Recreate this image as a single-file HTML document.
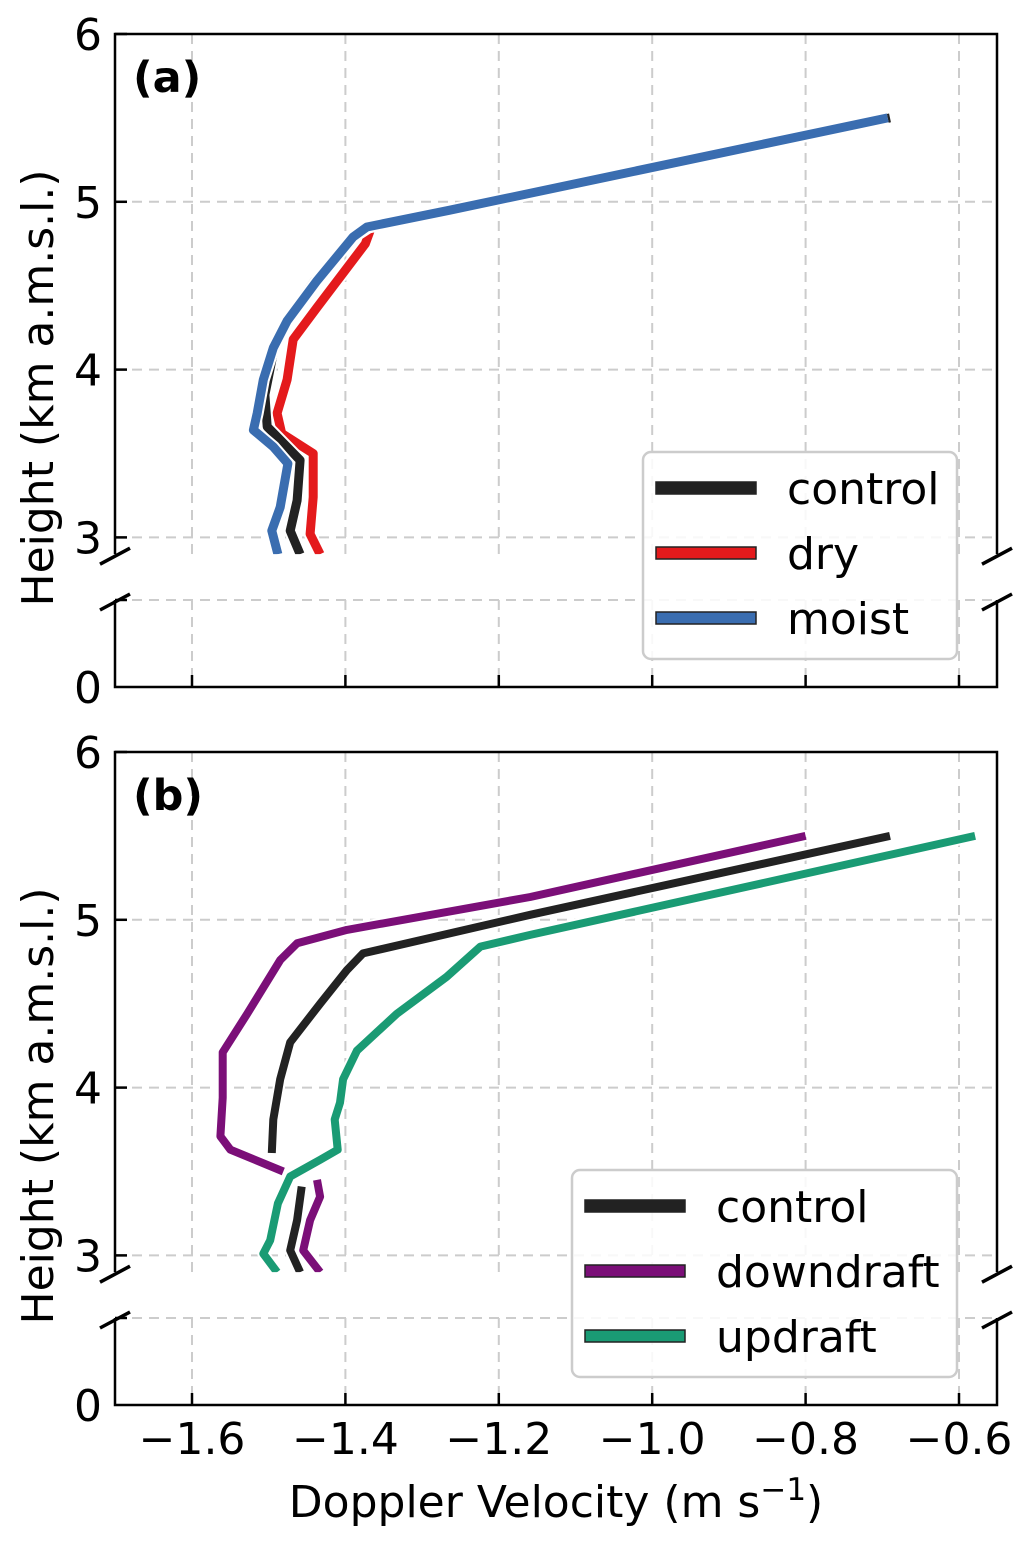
<!DOCTYPE html>
<html><head><meta charset="utf-8"><style>
body{margin:0;background:#fff;}
svg text{font-family:"DejaVu Sans","Liberation Sans",sans-serif;fill:#000;}
</style></head><body>
<svg id="chart" width="1033" height="1543" viewBox="0 0 1033 1543" xmlns="http://www.w3.org/2000/svg"></svg>
<script>
// x values (Doppler velocity, m/s) and heights (km) per series
const xTicks = [-1.6, -1.4, -1.2, -1.0, -0.8, -0.6];
const xTickLabels = ["\u22121.6", "\u22121.4", "\u22121.2", "\u22121.0", "\u22120.8", "\u22120.6"];
const yTicksUpper = [3, 4, 5, 6];
const yTicksLower = [0];

const aMoistX = [-0.693,-1.264,-1.372,-1.390,-1.437,-1.476,-1.494,-1.507,-1.515,-1.520,-1.494,-1.475,-1.485,-1.496,-1.488];
const aMoistH = [5.50,4.95,4.85,4.79,4.53,4.29,4.13,3.94,3.74,3.64,3.54,3.44,3.18,3.04,2.90];
const aDryX = [-0.70,-1.26,-1.366,-1.374,-1.437,-1.468,-1.476,-1.489,-1.483,-1.442,-1.442,-1.442,-1.446,-1.433];
const aDryH = [5.50,4.95,4.85,4.75,4.37,4.18,3.94,3.74,3.62,3.50,3.40,3.24,3.02,2.90];
const aCtrlX = [-0.69,-1.26,-1.37,-1.39,-1.44,-1.478,-1.494,-1.505,-1.502,-1.459,-1.463,-1.472,-1.459];
const aCtrlH = [5.50,4.95,4.85,4.79,4.53,4.29,4.10,3.85,3.66,3.46,3.22,3.04,2.90];

const bCtrlX = [-0.69,-1.159,-1.377,-1.398,-1.433,-1.472,-1.485,-1.494,-1.496,null,-1.457,-1.463,-1.472,-1.459];
const bCtrlH = [5.50,5.03,4.80,4.70,4.50,4.27,4.05,3.81,3.61,null,3.41,3.21,3.03,2.90];
const bDownX = [-0.80,-1.159,-1.398,-1.463,-1.485,-1.528,-1.560,-1.560,-1.563,-1.550,-1.481,null,-1.437,-1.433,-1.446,-1.455,-1.433];
const bDownH = [5.50,5.136,4.94,4.86,4.76,4.44,4.21,3.94,3.71,3.63,3.50,null,3.45,3.35,3.21,3.03,2.90];
const bUpX = [-0.579,-1.159,-1.224,-1.268,-1.333,-1.385,-1.403,-1.407,-1.414,-1.410,-1.433,-1.472,-1.488,-1.498,-1.507,-1.489];
const bUpH = [5.50,4.91,4.84,4.66,4.44,4.22,4.05,3.91,3.81,3.63,3.57,3.47,3.31,3.09,3.01,2.90];

const svg = document.getElementById('chart');
const NS = 'http://www.w3.org/2000/svg';
function mk(tag, attrs, parent){const e=document.createElementNS(NS,tag);for(const k in attrs)e.setAttribute(k,attrs[k]);(parent||svg).appendChild(e);return e;}
const X0=115, X1=997;
function xs(v){return 192 + (v + 1.6) * 767;}

function panel(p){
  const g = mk('g',{});
  
  
  const ys = h => p.y6 + (6 - h) * 167.8;
  const upBot = ys(2.9), lowTop = p.y0 - 87;
  const gs = {stroke:'#ccc','stroke-width':2,'stroke-dasharray':'10,7'};
  xTicks.forEach(v=>{
    mk('line',Object.assign({x1:xs(v),x2:xs(v),y1:p.y6,y2:upBot},gs),g);
    mk('line',Object.assign({x1:xs(v),x2:xs(v),y1:lowTop,y2:p.y0},gs),g);
  });
  yTicksUpper.forEach(h=>mk('line',Object.assign({x1:X0,x2:X1,y1:ys(h),y2:ys(h)},gs),g));
  mk('line',Object.assign({x1:X0,x2:X1,y1:lowTop,y2:lowTop},gs),g);
  const clip = mk('clipPath',{id:'clip'+p.key},g);
  mk('rect',{x:X0,y:p.y6,width:X1-X0,height:upBot-p.y6},clip);
  const sg = mk('g',{'clip-path':'url(#clip'+p.key+')'},g);
  p.series.forEach(s=>{
    let d='', pen=false;
    s.x.forEach((v,i)=>{ if(v===null){pen=false;return;} d+=(pen?'L':'M')+xs(v).toFixed(1)+','+ys(s.h[i]).toFixed(1); pen=true; });
    const w = mk('path',{d:d,fill:'none',stroke:'#fff','stroke-width':p.lw+4,'stroke-linejoin':'round'},sg);
    
    
    const l = mk('path',{d:d,fill:'none',stroke:s.color,'stroke-width':p.lw,'stroke-linejoin':'round'},sg);
    
    
  });
  const sp={stroke:'#000','stroke-width':2.5,fill:'none'};
  mk('path',Object.assign({d:`M${X0},${upBot}L${X0},${p.y6}L${X1},${p.y6}L${X1},${upBot}`},sp),g);
  mk('path',Object.assign({d:`M${X0},${lowTop}L${X0},${p.y0}L${X1},${p.y0}L${X1},${lowTop}`},sp),g);
  [X0,X1].forEach(x=>{
    mk('line',{x1:x-15,y1:upBot+10,x2:x+15,y2:upBot-6,stroke:'#000','stroke-width':3.5},g);
    mk('line',{x1:x-15,y1:lowTop+10,x2:x+15,y2:lowTop-6,stroke:'#000','stroke-width':3.5},g);
  });
  yTicksUpper.forEach(h=>{
    mk('line',{x1:X0,x2:X0+12,y1:ys(h),y2:ys(h),stroke:'#000','stroke-width':2.5},g);
    const t=mk('text',{x:102,y:ys(h)+16,'font-size':44,'text-anchor':'end'},g);t.textContent=h;
  });
  mk('line',{x1:X0,x2:X0+12,y1:lowTop,y2:lowTop,stroke:'#000','stroke-width':2.5},g);
  yTicksLower.forEach(h=>{
    const t=mk('text',{x:102,y:p.y0+16,'font-size':44,'text-anchor':'end'},g);t.textContent=h;
  });
  xTicks.forEach(v=>mk('line',{x1:xs(v),x2:xs(v),y1:p.y0,y2:p.y0-12,stroke:'#000','stroke-width':2.5},g));
  const yl=mk('text',{x:0,y:0,'font-size':44,'text-anchor':'middle',transform:`translate(53,${p.y6+354}) rotate(-90)`},g);
  yl.textContent='Height (km a.m.s.l.)';
  
  
  const pl=mk('text',{x:133,y:p.y6+58,'font-size':43,'font-weight':'bold'},g);pl.textContent=p.label;
  
  
  const lg=mk('g',{},g);
  
  
  mk('rect',{x:p.lx,y:p.y6+418,width:957-p.lx,height:207,rx:8,fill:'#fff','fill-opacity':0.85,stroke:'#ccc','stroke-width':2.5},lg);
  p.series.slice().sort((a,b)=>a.order-b.order).forEach((s,i)=>{
    const yy=p.y6+454+i*65;
    const r=mk('rect',{x:p.lx+13,y:yy-6,width:100,height:12,fill:s.color,stroke:'#222','stroke-width':1.5},lg);
    
    
    const t=mk('text',{x:p.lx+144,y:yy+16,'font-size':44},lg);t.textContent=s.name;
    
    
  });
}
panel({key:'a',name:'panel-a',label:'(a)',y6:34,y0:687,lw:9,lx:643,series:[
  {name:'dry',color:'#e41a1c',x:aDryX,h:aDryH,order:1},
  {name:'control',color:'#222222',x:aCtrlX,h:aCtrlH,order:0},
  {name:'moist',color:'#3a6db0',x:aMoistX,h:aMoistH,order:2}]});
panel({key:'b',name:'panel-b',label:'(b)',y6:752,y0:1405,lw:8,lx:572,series:[
  {name:'control',color:'#222222',x:bCtrlX,h:bCtrlH,order:0},
  {name:'downdraft',color:'#7b0f78',x:bDownX,h:bDownH,order:1},
  {name:'updraft',color:'#1a9b74',x:bUpX,h:bUpH,order:2}]});
xTicks.forEach((v,i)=>{
  const t=mk('text',{x:xs(v),y:1454,'font-size':44,'text-anchor':'middle'});t.textContent=xTickLabels[i];
  
  
});
const xt=mk('text',{x:556,y:1517,'font-size':44,'text-anchor':'middle'});
xt.innerHTML='Doppler Velocity (m s<tspan dy="-17" font-size="31">\u22121</tspan><tspan dy="17">)</tspan>';


</script>
</body></html>
